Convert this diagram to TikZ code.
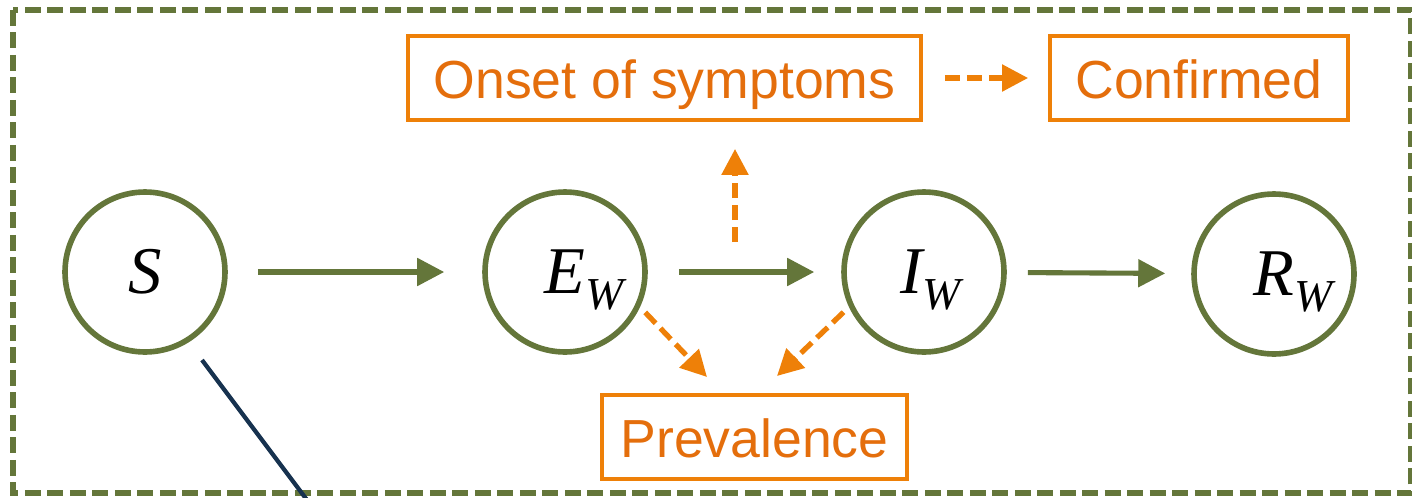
\documentclass[tikz,border=0pt]{standalone}
\usepackage{fontspec}
\setmainfont{Liberation Serif}
\newfontfamily\obsfont{Liberation Sans}
\usetikzlibrary{arrows.meta}
\definecolor{stategreen}{RGB}{100,118,58}
\definecolor{obsorange}{RGB}{238,128,8}
\definecolor{obstext}{RGB}{228,110,12}
\definecolor{linknavy}{RGB}{23,50,79}
\newcommand{\compname}[2]{#1\rlap{\smash{\raisebox{-9pt}{\fontsize{26}{26}\selectfont #2}}}}
\begin{document}
\begin{tikzpicture}[x=0.02cm,y=-0.02cm,
    state/.style={circle,draw=stategreen,line width=3.2pt,minimum size=3.2cm,inner sep=0pt,
      font=\fontsize{38}{40}\selectfont\itshape},
    obsbox/.style={draw=obsorange,line width=2.2pt,text=obstext,inner sep=0pt,
      minimum height=1.68cm,text height=23pt,text depth=0pt,font=\obsfont\fontsize{30.5}{36}\selectfont},
    flow/.style={-{Triangle[length=0.54cm,width=0.54cm]},stategreen,line width=2.9pt},
    obsflow/.style={-{Triangle[length=0.52cm,width=0.52cm]},obsorange,line width=3pt,
      dash pattern=on 0.3cm off 0.14cm}]
    \useasboundingbox (0,0) rectangle (1412,497);
          % compartments
          \node[state] (S) at (145,272) {S};
          \node[state] (E) at (565,272) {\compname{E}{W}};
          \node[state] (I) at (924,272) {\hspace{-14pt}\compname{I}{W}};
          \node[state] (R) at (1274,274) {\compname{R}{W}};
          % observations
          \node[obsbox,minimum width=10.26cm] (Onset) at (664.5,78) {Onset of symptoms};
          \node[obsbox,minimum width=5.96cm] (Confirmed) at (1199,78) {Confirmed};
          \node[obsbox,minimum width=6.1cm] (Prev) at (754.5,437) {Prevalence};
          \coordinate (onsetfoot) at (735,242);
          \coordinate (etip) at (707,377);
          \coordinate (itip) at (777,376);
          \coordinate (sfoot) at (202,360);
          \coordinate (sout) at (310,504);
          % region
          \draw[stategreen,line width=3pt,dash pattern=on 0.32cm off 0.13cm] (13,10) rectangle (1411,493);
          \draw[flow,shorten <=0.6cm,shorten >=0.76cm] (S) -- (E);
          \draw[flow,shorten <=0.62cm,shorten >=0.54cm] (E) -- (I);
          \draw[flow,shorten <=0.42cm,shorten >=0.52cm] (I) -- (R);
          \draw[obsflow,shorten >=0.54cm] (onsetfoot) -- (onsetfoot |- Onset.south);
          \draw[obsflow,shorten <=0.44cm,shorten >=0.4cm] (Onset) -- (Confirmed);
          \draw[obsflow,shorten <=0.15cm] (E.-25) -- (etip);
          \draw[obsflow,shorten <=0.15cm] (I.205) -- (itip);
          \draw[linknavy,line width=2.4pt] (sfoot) -- (sout);
          %\node at (735,300) {};
        \end{tikzpicture}
\end{document}
